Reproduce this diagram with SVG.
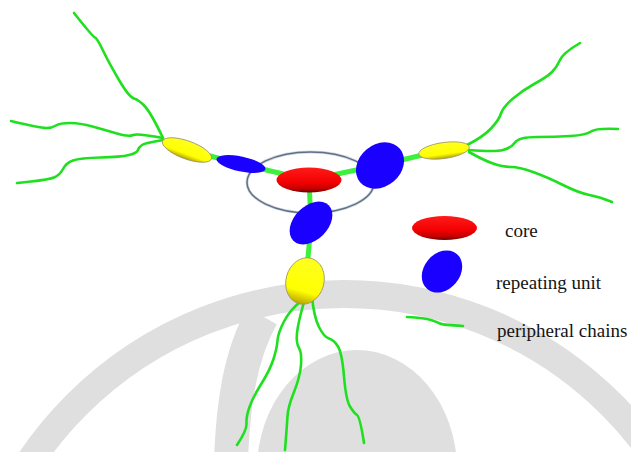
<svg xmlns="http://www.w3.org/2000/svg" width="631" height="452" viewBox="0 0 631 452">
  <defs>
    <linearGradient id="redFill" x1="0" y1="0" x2="0" y2="1">
      <stop offset="0" stop-color="#ff1a1a"/>
      <stop offset="0.6" stop-color="#f20000"/>
      <stop offset="0.85" stop-color="#c40000"/>
      <stop offset="1" stop-color="#6a0000"/>
    </linearGradient>
    <linearGradient id="yellowFill" x1="0" y1="0" x2="0" y2="1">
      <stop offset="0" stop-color="#ffff20"/>
      <stop offset="0.72" stop-color="#ffff00"/>
      <stop offset="1" stop-color="#b8a400"/>
    </linearGradient>
    <style>
      .mark { fill: none; stroke: #dfdfdf; }
      .link { stroke: #3df03d; stroke-width: 5; stroke-linecap: butt; }
      .chain { fill: none; stroke: #1fe01f; stroke-width: 2.6; stroke-linecap: round; stroke-linejoin: round; }
      .core { fill: url(#redFill); }
      .unit { fill: #1a00ff; }
      .end { fill: url(#yellowFill); stroke: #9a9468; stroke-width: 0.8; }
      .label { font-family: "Liberation Serif", "Times New Roman", serif; font-size: 19px; fill: #141414; }
    </style>
  </defs>

  <rect width="631" height="452" fill="#ffffff"/>

  <!-- faint background emblem -->
  <g id="emblem">
    <circle class="mark" cx="344" cy="672" r="378" stroke-width="28"/>
    <path class="mark" d="M231,460 C233,405 240,355 262,316" stroke-width="34"/>
    <ellipse cx="357" cy="470" rx="100" ry="120" fill="#dfdfdf"/>
  </g>

  <!-- backbone links between core, repeating units and chain ends -->
  <g id="connectors">
    <line class="link" x1="187" y1="150" x2="241" y2="164"/>
    <line class="link" x1="241" y1="164" x2="309" y2="180"/>
    <line class="link" x1="309" y1="180" x2="380" y2="165"/>
    <line class="link" x1="380" y1="165" x2="444" y2="150"/>
    <line class="link" x1="309" y1="180" x2="311" y2="223"/>
    <line class="link" x1="311" y1="223" x2="306" y2="281"/>
  </g>

  <!-- peripheral chains -->
  <g id="chains">
    <path class="chain" d="M74,13 Q93,37 95,37.5 Q97,38 103,50.5 Q109,63 119,80 Q129,97 134,98.5 Q139,100 145,106.5 Q151,113 163,138"/>
    <path class="chain" d="M11,121 Q40,128 46,128 Q52,128 56,125.5 Q60,123 70,123 Q80,123 92.5,126.5 Q105,130 117,133.5 Q129,137 133,135 Q137,133 163,138"/>
    <path class="chain" d="M17,183 Q48,180 54,177.5 Q60,175 63,169 Q66,163 73,160.5 Q80,158 100.5,157.5 Q121,157 129,155 Q137,153 138,150 Q139,147 142,145 Q145,143 163,140"/>
    <path class="chain" d="M467,145 Q483,137 491,128.5 Q499,120 501,113.5 Q503,107 513,98.5 Q523,90 535,83.5 Q547,77 552,72 Q557,67 560,60 Q563,53 580,43"/>
    <path class="chain" d="M469,150 Q495,152 503,150 Q511,148 515,142.5 Q519,137 537,137 Q555,137 570.5,136 Q586,135 591,131.5 Q596,128 618,129"/>
    <path class="chain" d="M469,152 Q483,160 493,163.5 Q503,167 511,167 Q519,167 533,172 Q547,177 563,185 Q579,193 589.5,195 Q600,197 612,202"/>
    <path class="chain" d="M300,302 Q290,310 284,321.5 Q278,333 277.5,340.5 Q277,348 273.5,359 Q270,370 261.5,383.5 Q253,397 249.5,407 Q246,417 246.5,423.5 Q247,430 237,445"/>
    <path class="chain" d="M304,302 Q298,323 297,333 Q296,343 299,348 Q302,353 301,365 Q300,377 294,392 Q288,407 287.5,416 Q287,425 285,450"/>
    <path class="chain" d="M312,297 Q314,317 319,327 Q324,337 329,338.5 Q334,340 338,346.5 Q342,353 344,376.5 Q346,400 350,406.5 Q354,413 357,415 Q360,417 364,443"/>
  </g>

  <g id="ring">
    <ellipse cx="310.5" cy="182.5" rx="63.5" ry="30.5" fill="none" stroke="#d4dae2" stroke-width="3"/>
    <ellipse cx="310.5" cy="182.5" rx="63.5" ry="30.5" fill="none" stroke="#5f7188" stroke-width="1.5"/>
  </g>

  <g id="end-left"><ellipse class="end" cx="187" cy="150" rx="26" ry="9" transform="rotate(20 187 150)"/></g>
  <g id="unit-left"><ellipse class="unit" cx="241" cy="164" rx="25" ry="7.5" transform="rotate(12 241 164)"/></g>
  <g id="core"><ellipse class="core" cx="309" cy="180" rx="32.5" ry="12.5"/></g>
  <g id="unit-right"><ellipse class="unit" cx="380" cy="165.5" rx="26" ry="21" transform="rotate(-40 380 165.5)"/></g>
  <g id="end-right"><ellipse class="end" cx="444" cy="150.5" rx="25.5" ry="8" transform="rotate(-8 444 150.5)"/></g>
  <g id="unit-bottom"><ellipse class="unit" cx="311" cy="223" rx="25" ry="17" transform="rotate(-45 311 223)"/></g>
  <g id="end-bottom"><ellipse class="end" cx="305" cy="281" rx="19" ry="23.5" transform="rotate(15 305 281)"/></g>

  <!-- key -->
  <g id="legend-core">
    <ellipse class="core" cx="444.5" cy="228" rx="32.5" ry="12"/>
    <text class="label" x="505" y="237">core</text>
  </g>
  <g id="legend-unit">
    <ellipse class="unit" cx="442" cy="271.5" rx="23" ry="18" transform="rotate(-50 442 271.5)"/>
    <text class="label" x="496" y="289">repeating unit</text>
  </g>
  <g id="legend-chain">
    <path class="chain" d="M407,317 Q425,318 431,320 Q437,322 440,323.5 Q443,325 463,326"/>
    <text class="label" x="497" y="337">peripheral chains</text>
  </g>
</svg>
